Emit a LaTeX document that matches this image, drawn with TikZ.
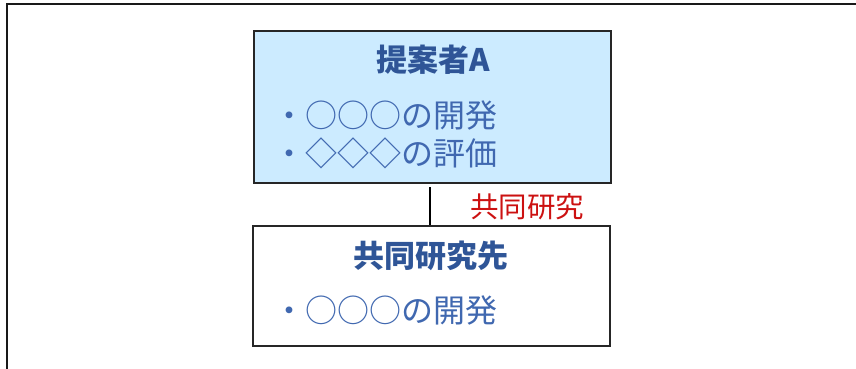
\documentclass[tikz,border=0pt]{standalone}
\usepackage{fontspec}
\newfontfamily\jp{Noto Sans CJK JP}
\definecolor{boxfill}{HTML}{CCEBFF}
\definecolor{titleblue}{HTML}{2F5597}
\definecolor{itemblue}{HTML}{4068B0}
\definecolor{labelred}{HTML}{CC1111}
\begin{document}
\begin{tikzpicture}[x=1pt,y=-1pt,
  panel/.style={draw=black!85, line width=1.8pt, minimum width=357pt, inner sep=0pt},
  ttl/.style={font=\jp\bfseries\fontsize{31}{35}\selectfont, text=titleblue, inner sep=0pt},
  item/.style={font=\jp\fontsize{32}{36}\selectfont, text=itemblue, inner sep=0pt, anchor=west},
  lbl/.style={font=\jp\fontsize{28.5}{32}\selectfont, text=labelred, inner sep=0pt},
  link/.style={draw=black, line width=1.8pt}]
\useasboundingbox (0,0) rectangle (856,368);
% outer frame (left and top edges visible)
\coordinate (fbl) at (7,369);
\coordinate (ftl) at (7,4);
\coordinate (ftr) at (857,4);
\draw[line width=2.2pt, black!90] (fbl) -- (ftl) -- (ftr);
% boxes
\node[panel, fill=boxfill, minimum height=152pt] (top) at (432.5,107) {};
\node[panel, fill=white, minimum height=120pt] (bot) at (431.5,286) {};
% texts
\node[ttl] (t1) at (433,60) {提案者A};
\node[item] (i1) at (273,115) {・○○○の開発};
\node[item] (i2) at (273,153) {・◇◇◇の評価};
\node[ttl] (t2) at (431,256) {共同研究先};
\node[item] (i3) at (273,310) {・○○○の開発};
% connector
\coordinate (ca) at (430,187);
\coordinate (cb) at (430,225);
\draw[link] (ca) -- (cb);
\node[lbl] (l1) at (527,207) {共同研究};
\end{tikzpicture}
\end{document}
